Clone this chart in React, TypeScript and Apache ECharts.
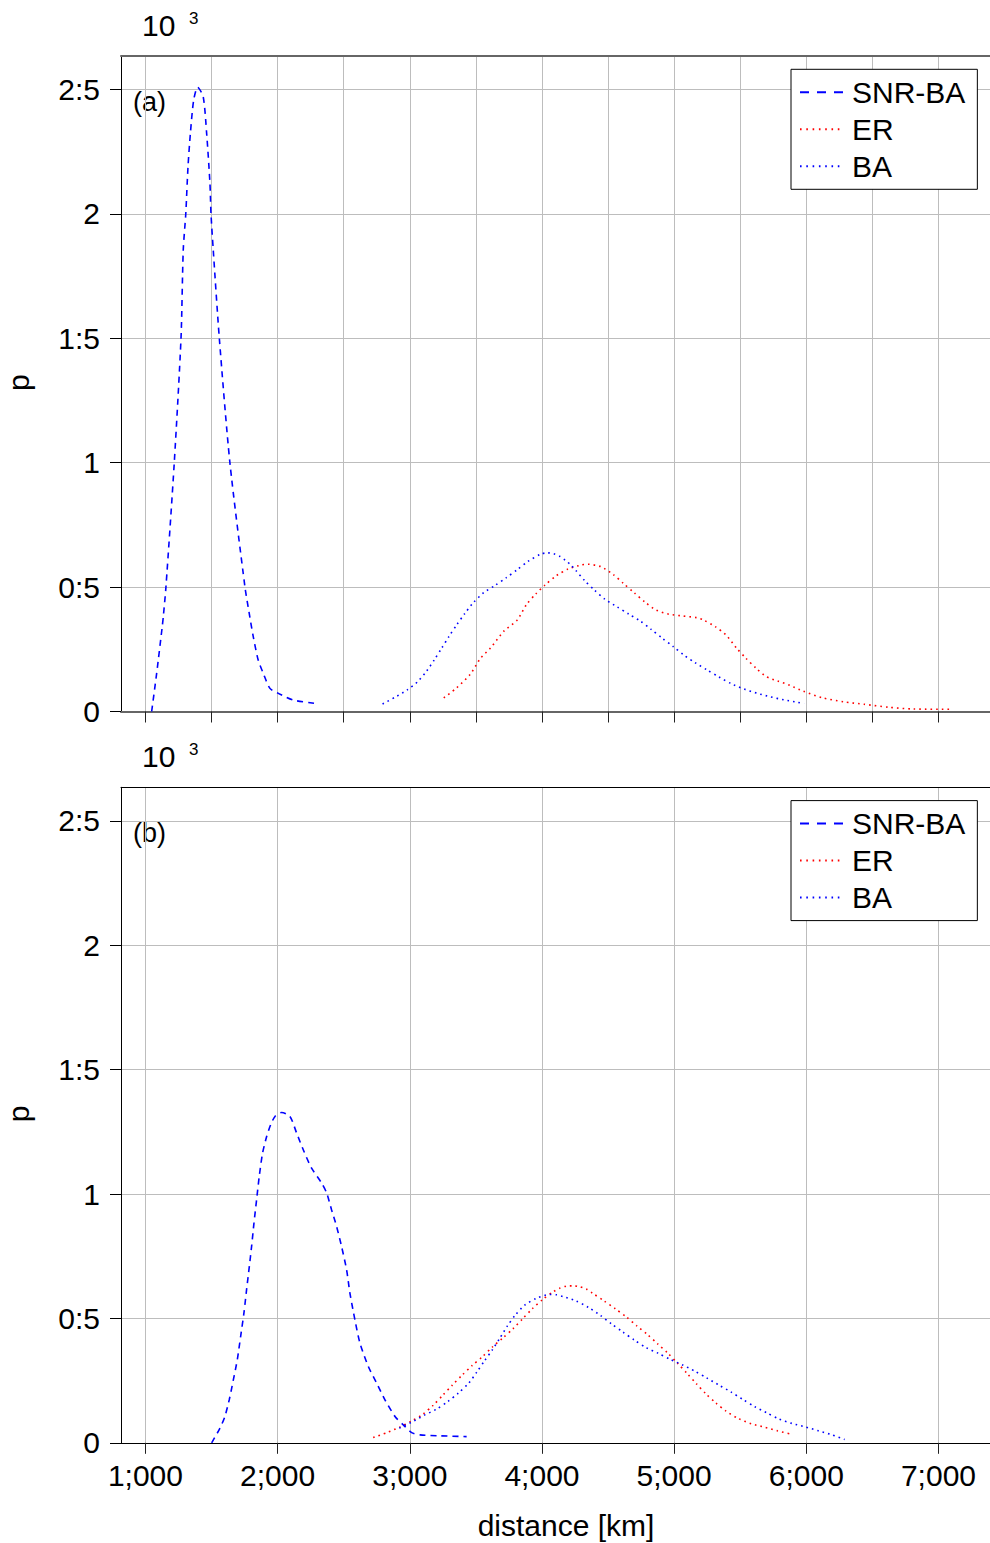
import React, { useEffect, useRef } from 'react';
import * as echarts from 'echarts';

const FONT = '"Liberation Sans", Arial, Helvetica, sans-serif';

const xMin = 815;
const xMax = 7390;
const yMin = 0;
const yMax = 2.635;

const xTicksTop = [1000, 1500, 2000, 2500, 3000, 3500, 4000, 4500, 5000, 5500, 6000, 6500, 7000];
const xTicksBottom = [1000, 2000, 3000, 4000, 5000, 6000, 7000];
const yTicks = [0, 0.5, 1, 1.5, 2, 2.5];

const seriesNames = ['SNR-BA', 'ER', 'BA'];
const panelLabels = ['(a)', '(b)'];
const xAxisTitle = 'distance [km]';
const yAxisTitle = 'p';
const scaleBase = '10';
const scaleExp = '3';

// Panel (a)
const snrBaTop: [number, number][] = [
  [1047, 0], [1085, 0.154], [1127, 0.341], [1135, 0.381], [1155, 0.5], [1218, 1.0], [1269, 1.5],
  [1286, 1.855], [1305, 2.0], [1322, 2.19], [1340, 2.324], [1365, 2.458], [1395, 2.509],
  [1437, 2.471], [1463, 2.324], [1488, 2.123], [1496, 2.0], [1513, 1.855], [1559, 1.5],
  [1639, 1.0], [1753, 0.5], [1785, 0.395], [1816, 0.3], [1853, 0.207], [1891, 0.154],
  [1942, 0.093], [2005, 0.073], [2118, 0.046], [2282, 0.033],
];
const erTop: [number, number][] = [
  [3257, 0.055], [3350, 0.093], [3458, 0.15], [3535, 0.214], [3612, 0.256], [3714, 0.324],
  [3813, 0.368], [3884, 0.431], [3952, 0.472], [4023, 0.508], [4106, 0.545], [4199, 0.573],
  [4298, 0.589], [4347, 0.592], [4446, 0.582], [4539, 0.551], [4616, 0.515], [4699, 0.477],
  [4777, 0.441], [4863, 0.408], [4962, 0.391], [5064, 0.384], [5172, 0.377], [5221, 0.368],
  [5311, 0.341], [5394, 0.307], [5474, 0.254], [5543, 0.214], [5620, 0.174], [5697, 0.14],
  [5783, 0.123], [5876, 0.105], [5975, 0.082], [6123, 0.055], [6284, 0.039], [6438, 0.029],
  [6623, 0.017], [6808, 0.01], [7111, 0.009],
];
const baTop: [number, number][] = [
  [2794, 0.03], [2887, 0.057], [2979, 0.086], [3060, 0.12], [3128, 0.163], [3186, 0.208],
  [3242, 0.255], [3297, 0.302], [3356, 0.349], [3415, 0.393], [3480, 0.437], [3560, 0.478],
  [3643, 0.506], [3730, 0.538], [3813, 0.57], [3896, 0.604], [3989, 0.632], [4039, 0.638],
  [4088, 0.634], [4134, 0.624], [4177, 0.608], [4218, 0.589], [4255, 0.568], [4323, 0.526],
  [4397, 0.488], [4477, 0.451], [4567, 0.421], [4656, 0.392], [4743, 0.364], [4826, 0.33],
  [4909, 0.295], [4993, 0.261], [5073, 0.227], [5160, 0.196], [5249, 0.167], [5339, 0.139],
  [5431, 0.112], [5530, 0.09], [5629, 0.073], [5728, 0.059], [5830, 0.047], [5935, 0.037],
  [5984, 0.031],
];

// Panel (b)
const snrBaBottom: [number, number][] = [
  [1501, 0], [1564, 0.059], [1601, 0.106], [1634, 0.173], [1665, 0.253], [1695, 0.334],
  [1720, 0.427], [1745, 0.521], [1765, 0.615], [1786, 0.709], [1803, 0.789], [1821, 0.883],
  [1841, 0.977], [1861, 1.071], [1886, 1.164], [1917, 1.231], [1947, 1.278], [1980, 1.312],
  [2030, 1.328], [2093, 1.312], [2144, 1.245], [2194, 1.178], [2257, 1.104], [2333, 1.044],
  [2371, 1.004], [2408, 0.937], [2446, 0.87], [2484, 0.789], [2522, 0.695], [2547, 0.602],
  [2585, 0.494], [2623, 0.401], [2686, 0.307], [2749, 0.24], [2812, 0.173], [2888, 0.106],
  [2951, 0.072], [3014, 0.041], [3077, 0.032], [3228, 0.028], [3430, 0.025],
];
const erBottom: [number, number][] = [
  [2723, 0.021], [2831, 0.042], [2924, 0.063], [3010, 0.087], [3097, 0.114], [3177, 0.151],
  [3251, 0.192], [3322, 0.232], [3396, 0.272], [3473, 0.311], [3551, 0.347], [3625, 0.385],
  [3705, 0.422], [3782, 0.459], [3853, 0.498], [3927, 0.539], [4005, 0.576], [4088, 0.608],
  [4137, 0.622], [4187, 0.63], [4236, 0.631], [4286, 0.627], [4335, 0.618], [4381, 0.602],
  [4468, 0.571], [4554, 0.539], [4638, 0.506], [4718, 0.47], [4798, 0.435], [4875, 0.398],
  [4953, 0.36], [5027, 0.319], [5098, 0.279], [5169, 0.237], [5240, 0.197], [5314, 0.161],
  [5394, 0.127], [5484, 0.098], [5586, 0.076], [5684, 0.063], [5783, 0.048], [5876, 0.036],
];
const baBottom: [number, number][] = [
  [2920, 0.059], [3010, 0.082], [3106, 0.11], [3202, 0.135], [3288, 0.166], [3368, 0.2],
  [3446, 0.24], [3507, 0.284], [3566, 0.33], [3625, 0.374], [3683, 0.422], [3739, 0.47],
  [3798, 0.513], [3869, 0.553], [3958, 0.581], [4057, 0.596], [4110, 0.595], [4159, 0.588],
  [4255, 0.571], [4350, 0.545], [4440, 0.513], [4526, 0.478], [4610, 0.446], [4699, 0.413],
  [4786, 0.383], [4879, 0.36], [4968, 0.336], [5064, 0.313], [5157, 0.288], [5246, 0.261],
  [5339, 0.232], [5428, 0.205], [5521, 0.174], [5610, 0.145], [5700, 0.121], [5792, 0.096],
  [5891, 0.078], [5993, 0.064], [6092, 0.048], [6194, 0.032], [6290, 0.013],
];

const fmtX = (v: number) => {
  const s = Math.round(v).toString();
  return s.replace(/\B(?=(\d{3})+(?!\d))/g, ';');
};
const fmtY = (v: number) => String(v).replace('.', ':');

const GRID_LEFT = 121;
const PANEL_TOPS = [56, 787.3];
const PANEL_H = 655.5;
const PANEL_SHIFT = PANEL_TOPS[1] - PANEL_TOPS[0];

export default function App() {
  const ref = useRef<HTMLDivElement>(null);

  useEffect(() => {
    if (!ref.current) return;
    const chart = echarts.init(ref.current, undefined, { renderer: 'svg' });

    const gridLine = { show: true, lineStyle: { color: '#bdbdbd', width: 1 } };

    const xBottom = (gridIndex: number, ticks: number[], showLabels: boolean, lineColor: string, lineWidth: number) => ({
      type: 'value',
      gridIndex,
      min: xMin,
      max: xMax,
      position: 'bottom',
      axisLine: { show: true, onZero: false, lineStyle: { color: lineColor, width: lineWidth } },
      axisTick: { show: true, inside: false, length: 11, customValues: ticks, lineStyle: { color: '#222', width: 1 } },
      axisLabel: {
        show: showLabels,
        customValues: ticks,
        formatter: fmtX,
        fontSize: 30,
        color: '#000',
        fontFamily: FONT,
        margin: 18,
      },
      splitLine: gridLine,
    });
    const xTop = (gridIndex: number, lineColor: string, lineWidth: number) => ({
      type: 'value',
      gridIndex,
      min: xMin,
      max: xMax,
      position: 'top',
      axisLine: { show: true, onZero: false, lineStyle: { color: lineColor, width: lineWidth } },
      axisTick: { show: false },
      axisLabel: { show: false },
      splitLine: { show: false },
    });
    const yAx = (gridIndex: number) => ({
      type: 'value',
      gridIndex,
      min: yMin,
      max: yMax,
      axisLine: { show: true, onZero: false, lineStyle: { color: '#000', width: 1 } },
      axisTick: { show: true, inside: false, length: 11, customValues: yTicks, lineStyle: { color: '#000', width: 1 } },
      axisLabel: {
        show: true,
        customValues: yTicks,
        formatter: fmtY,
        fontSize: 30,
        color: '#000',
        fontFamily: FONT,
        margin: 21,
      },
      splitLine: gridLine,
    });

    const mkLine = (name: string, data: [number, number][], gi: number, color: string, dash: number[]) => ({
      type: 'line',
      name,
      xAxisIndex: gi * 2,
      yAxisIndex: gi,
      data,
      showSymbol: false,
      symbol: 'none',
      smooth: 0.25,
      lineStyle: { color, width: 1.6, type: dash },
      itemStyle: { color },
      z: 3,
    });

    const dashed = [6, 5];
    const dotted = [1.6, 4];

    const graphics: any[] = [];
    [0, 1].forEach((i) => {
      const dy = i * PANEL_SHIFT;
      graphics.push({
        type: 'text', x: 142, y: 25.5 + dy,
        style: { text: scaleBase, fontSize: 30, fontFamily: FONT, fill: '#000', textAlign: 'left', textVerticalAlign: 'middle' },
      });
      graphics.push({
        type: 'text', x: 189, y: 18 + dy,
        style: { text: scaleExp, fontSize: 17, fontFamily: FONT, fill: '#000', textAlign: 'left', textVerticalAlign: 'middle' },
      });
      graphics.push({
        type: 'text', x: 133, y: 102 + dy,
        style: { text: panelLabels[i], fontSize: 27, fontFamily: FONT, fill: '#000', textAlign: 'left', textVerticalAlign: 'middle' },
      });
      graphics.push({
        type: 'text', x: 18.5, y: 382.7 + dy, rotation: Math.PI / 2,
        style: { text: yAxisTitle, fontSize: 30, fontFamily: FONT, fill: '#000', textAlign: 'center', textVerticalAlign: 'middle' },
      });
    });
    graphics.push({
      type: 'text', x: 566, y: 1525,
      style: { text: xAxisTitle, fontSize: 30, fontFamily: FONT, fill: '#000', textAlign: 'center', textVerticalAlign: 'middle' },
    });

    const legendBase = {
      data: [
        { name: seriesNames[0], lineStyle: { type: [9, 8] } },
        { name: seriesNames[1], lineStyle: { type: [1.6, 4.7] } },
        { name: seriesNames[2], lineStyle: { type: [1.6, 4.7] } },
      ],
      orient: 'vertical',
      left: 791,
      padding: [8, 12, 8, 8],
      itemGap: 7,
      itemWidth: 44,
      itemHeight: 14,
      borderColor: '#000',
      borderWidth: 1,
      backgroundColor: '#fff',
      selectedMode: false,
      itemStyle: { opacity: 0, borderWidth: 0 },
      textStyle: { fontSize: 30, lineHeight: 30, color: '#000', fontFamily: FONT, padding: [0, 0, 0, 3] },
    };

    chart.setOption({
      animation: false,
      backgroundColor: '#fff',
      textStyle: { fontFamily: FONT },
      grid: [
        { left: GRID_LEFT, top: PANEL_TOPS[0], width: 869, height: PANEL_H, containLabel: false },
        { left: GRID_LEFT, top: PANEL_TOPS[1], width: 869, height: PANEL_H, containLabel: false },
      ],
      xAxis: [
        xBottom(0, xTicksTop, false, '#666', 2),
        xTop(0, '#666', 2),
        xBottom(1, xTicksBottom, true, '#000', 1),
        xTop(1, '#000', 1),
      ],
      yAxis: [yAx(0), yAx(1)],
      legend: [
        { ...legendBase, top: 69.3 },
        { ...legendBase, top: 69.3 + PANEL_SHIFT },
      ],
      series: [
        mkLine(seriesNames[0], snrBaTop, 0, '#0000ff', dashed),
        mkLine(seriesNames[1], erTop, 0, '#ff0000', dotted),
        mkLine(seriesNames[2], baTop, 0, '#0000ff', dotted),
        mkLine(seriesNames[0], snrBaBottom, 1, '#0000ff', dashed),
        mkLine(seriesNames[1], erBottom, 1, '#ff0000', dotted),
        mkLine(seriesNames[2], baBottom, 1, '#0000ff', dotted),
      ],
      graphic: graphics,
    });

    return () => chart.dispose();
  }, []);

  return (
    <div
      ref={ref}
      style={{ position: 'absolute', left: 0, top: 0, width: 990, height: 1543, background: '#fff' }}
    />
  );
}
